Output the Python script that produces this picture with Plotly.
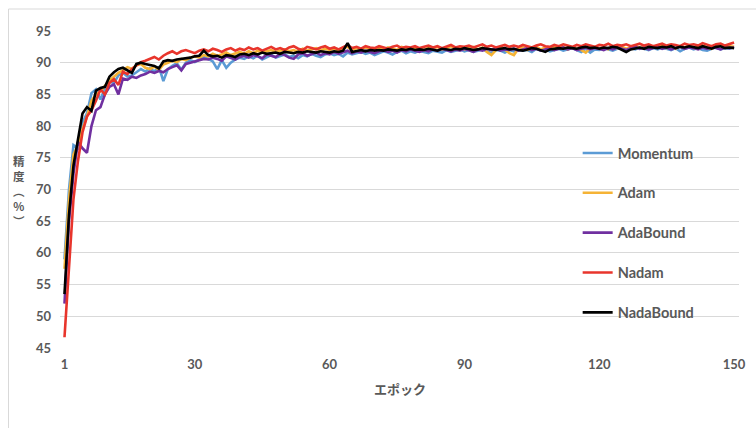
import plotly.graph_objects as go

epochs = list(range(1, 151))

momentum = [
    59.0, 70.0, 77.0, 76.5, 80.5, 82.0, 85.2, 85.8, 84.2, 86.0,
    87.0, 86.8, 88.0, 88.4, 87.8, 88.0, 88.5, 89.0, 88.6, 89.1,
    88.6, 89.4, 87.1, 89.0, 89.5, 89.9, 88.9, 90.0, 90.4, 90.1,
    90.5, 90.9, 90.6, 90.2, 89.0, 90.4, 89.2, 90.0, 90.5, 90.8,
    90.6, 91.0, 90.7, 91.1, 90.5, 90.9, 91.2, 90.8, 91.0, 91.3,
    90.9, 91.1, 90.7, 91.2, 91.0, 91.4, 91.1, 90.9, 91.3, 91.5,
    91.2, 91.4, 91.0, 91.6, 91.3, 91.5, 91.7, 91.4, 91.6, 91.2,
    91.5, 91.8, 91.6, 91.3, 91.7, 91.9, 91.5, 91.8, 91.6, 91.9,
    91.7, 91.5, 91.9, 91.8, 91.6, 92.0, 91.7, 91.9, 92.1, 91.8,
    92.0, 91.7, 91.9, 92.1, 91.8, 91.5, 92.0, 91.9, 91.6, 92.0,
    91.8, 92.1, 91.9, 92.0, 91.7, 92.2, 91.9, 92.1, 91.8, 92.0,
    92.2, 91.9, 92.1, 92.3, 92.0, 91.7, 92.2, 91.6, 92.1, 92.0,
    92.3, 92.1, 91.9, 92.2, 92.4, 92.0, 92.3, 92.1, 92.4, 92.2,
    92.0, 92.3, 92.1, 92.4, 92.2, 92.0, 92.3, 91.8, 92.2, 92.4,
    92.1, 92.3, 92.0, 91.9, 92.2, 92.4, 92.1, 92.3, 92.2, 92.5,
]

adam = [
    57.5, 68.5, 75.5, 77.0, 79.5, 81.5, 84.0, 85.0, 85.5, 86.3,
    87.2, 87.8, 88.4, 88.8, 89.3, 89.0, 89.6, 89.8, 89.2, 89.0,
    89.4, 88.9, 89.7, 90.0, 90.3, 90.1, 90.6, 90.4, 90.8, 91.0,
    90.8, 91.2, 91.0, 91.4, 91.1, 91.3, 91.6, 91.2, 91.5, 91.7,
    91.4, 91.8, 91.5, 91.9, 91.6, 91.8, 92.0, 91.7, 91.9, 92.1,
    91.8, 92.0, 91.7, 92.2, 91.9, 92.1, 92.3, 91.9, 92.2, 92.0,
    92.2, 91.9, 92.3, 92.5, 92.0, 92.3, 92.1, 92.4, 92.2, 92.0,
    92.3, 92.1, 92.4, 92.2, 92.0, 92.5, 92.3, 92.1, 92.4, 92.2,
    92.0, 92.4, 92.2, 92.5, 92.1, 92.3, 92.6, 92.2, 92.4, 92.1,
    92.3, 92.5, 92.1, 92.4, 91.7, 91.2, 92.0, 92.3, 92.1, 91.5,
    91.2, 92.2, 92.4, 92.0, 92.3, 92.5, 92.1, 92.4, 92.2, 92.6,
    92.3, 92.5, 92.1, 92.4, 92.2, 92.0, 91.6, 92.3, 92.5, 92.2,
    92.4, 92.1, 92.6, 92.3, 92.5, 92.2, 92.4, 92.7, 92.3, 92.5,
    92.2, 92.6, 92.4, 92.8, 92.3, 92.5, 92.2, 92.6, 92.4, 92.7,
    92.3, 92.5, 92.7, 92.4, 92.2, 92.6, 92.8, 92.4, 92.6, 92.5,
]

adabound = [
    52.0, 65.0, 72.5, 77.5, 76.5, 75.8, 80.0, 82.5, 83.0, 85.0,
    86.2, 86.6, 85.0, 87.5, 87.3, 87.8, 87.6, 88.0, 88.2, 88.6,
    88.4, 88.7, 88.5, 89.0, 89.3, 89.6, 88.8, 89.8, 90.0, 90.2,
    90.4, 90.6, 90.5, 90.8, 90.6, 90.3, 91.0, 90.7, 90.5, 90.9,
    91.1, 90.8, 91.2, 91.0, 90.7, 91.3, 91.1, 90.9, 91.4, 91.2,
    90.8, 90.6, 91.3, 91.5, 91.1, 91.4, 91.6, 91.2, 91.5, 91.3,
    91.7, 91.4, 91.6, 91.9, 91.5, 91.8, 91.6, 91.9, 91.7, 91.5,
    91.8, 92.0, 91.7, 91.9, 91.6, 92.0, 91.8, 92.1, 91.9, 91.7,
    92.0, 91.8, 92.1, 91.9, 92.2, 92.0, 91.8, 92.1, 91.9, 92.2,
    92.0, 91.7, 92.1, 91.9, 92.2, 92.0, 92.3, 91.9, 92.1, 92.0,
    92.2, 91.9, 92.1, 92.3, 92.0, 92.2, 91.9, 92.1, 92.3, 92.0,
    92.2, 92.4, 92.1, 92.3, 92.0, 92.2, 92.4, 92.1, 92.3, 92.2,
    92.0, 92.3, 92.1, 92.4, 92.2, 92.0, 92.3, 92.5, 92.2, 92.4,
    92.1, 92.3, 92.5, 92.2, 92.4, 92.1, 92.3, 92.5, 92.2, 92.4,
    92.3, 92.1, 92.4, 92.2, 92.5, 92.3, 92.1, 92.4, 92.3, 92.4,
]

nadam = [
    46.7, 58.0, 68.5, 74.5, 79.0, 81.5, 82.5, 84.0, 85.8, 85.0,
    86.8, 87.4, 86.5, 88.6, 88.2, 89.0, 89.6, 90.1, 90.3, 90.6,
    90.9, 90.5, 91.1, 91.5, 91.8, 91.4, 91.8, 92.0, 91.7, 91.5,
    91.9, 92.1, 91.8, 92.2, 92.0, 91.7, 92.1, 92.3, 91.9, 92.2,
    92.0, 92.4, 92.1, 92.3, 91.9, 92.2, 92.5, 92.1, 92.3, 92.0,
    92.4, 92.6, 92.2, 92.0, 92.5, 92.3, 92.1, 92.4, 92.6, 92.2,
    92.4, 92.1, 92.5, 92.8, 92.3, 92.5, 92.2, 92.6, 92.4, 92.3,
    92.6, 92.4, 92.2, 92.5, 92.7, 92.3, 92.5, 92.4, 92.6, 92.3,
    92.5, 92.7, 92.4, 92.6, 92.3, 92.5, 92.8, 92.4, 92.6, 92.5,
    92.7, 92.4, 92.6, 92.9, 92.5, 92.7, 92.4, 92.6, 92.8, 92.5,
    92.7, 92.5, 92.8, 92.6, 92.4, 92.7, 92.9, 92.6, 92.5, 92.8,
    92.6, 92.9, 92.7, 92.5, 92.8, 92.6, 92.9, 92.7, 92.5, 92.8,
    92.7, 93.0, 92.6, 92.8, 92.7, 92.9, 92.6, 92.8, 93.0, 92.7,
    92.9, 92.6, 92.8, 93.0, 92.7, 92.9, 92.8, 92.6, 93.0, 92.8,
    92.9, 92.7, 93.1, 92.8, 92.6, 92.9, 93.0, 92.7, 92.9, 93.2,
]

nadabound = [
    53.5, 66.0, 73.8, 78.2, 82.0, 83.0, 82.4, 85.6, 86.0, 86.2,
    87.8, 88.5, 89.0, 89.2, 88.8, 88.4, 89.8, 90.0, 89.8, 89.7,
    89.5, 89.1, 90.2, 90.4, 90.3, 90.5, 90.6, 90.6, 90.8, 91.0,
    91.1, 91.9, 91.2, 91.0, 91.1, 90.8, 91.2, 91.1, 90.9, 91.3,
    91.4, 91.2, 91.5, 91.3, 91.6, 91.4, 91.5, 91.6, 91.4, 91.7,
    91.6, 91.5, 91.7, 91.6, 91.8, 91.7, 91.6, 91.8, 91.7, 91.6,
    91.8, 91.7, 91.9, 93.1, 91.7, 91.9, 92.0, 91.8, 92.0, 91.9,
    92.0, 91.9, 92.1, 92.0, 91.9, 92.1, 92.0, 92.2, 92.0, 92.1,
    92.0, 92.2, 92.1, 91.9, 92.2, 92.1, 92.0, 92.2, 92.1, 92.3,
    92.2, 92.0, 92.1, 92.3, 92.2, 92.1, 92.0, 92.2, 92.3, 92.1,
    92.2, 92.0, 91.9, 92.1, 92.3, 92.2, 92.0, 91.7, 92.1, 92.2,
    92.3, 92.2, 92.4, 92.3, 92.2, 92.4, 92.5, 92.3, 92.4, 92.2,
    92.4, 92.3, 92.5, 92.4, 92.1, 91.7, 92.1, 92.3, 92.4, 92.2,
    92.5, 92.4, 92.3, 92.5, 92.4, 92.6, 92.3, 92.5, 92.4, 92.6,
    92.5, 92.3, 92.6, 92.4, 92.2, 92.5, 92.6, 92.3, 92.4, 92.3,
]

series_names = ["Momentum", "Adam", "AdaBound", "Nadam", "NadaBound"]
series_values = [momentum, adam, adabound, nadam, nadabound]
series_colors = ["#5B9BD5", "#F5B335", "#7030A0", "#E8352C", "#000000"]

x_tick_values = [1, 30, 60, 90, 120, 150]
y_tick_values = [45, 50, 55, 60, 65, 70, 75, 80, 85, 90, 95]

x_title = "エポック"
y_title = "精<br>度<br>︵<br>%<br>︶"

W, H = 756, 428
ML, MR, MT, MB = 60, 10, 31, 80
PW, PH = W - ML - MR, H - MT - MB

TEXT = "#595959"
FONT = "Lato"

fig = go.Figure()
for name, vals, col in zip(series_names, series_values, series_colors):
    fig.add_trace(go.Scatter(
        x=epochs, y=vals, name=name, mode="lines",
        line=dict(color=col, width=2.6),
        legendgroup=name,
    ))

def px_x(px):
    return (px - ML) / PW

def px_y(py):
    return (H - MB - py) / PH

annotations = [
    dict(text=x_title, x=0.5, y=px_y(388), xref="paper", yref="paper",
         showarrow=False, xanchor="center", yanchor="middle",
         font=dict(family="Noto Sans CJK JP", size=13, color=TEXT, weight="bold")),
    dict(text=y_title, x=px_x(19), y=px_y(191), xref="paper", yref="paper",
         showarrow=False, xanchor="center", yanchor="middle",
         font=dict(family="Noto Sans CJK JP", size=11.5, color=TEXT, weight="bold")),
]

fig.update_layout(
    width=W, height=H,
    margin=dict(l=ML, r=MR, t=MT, b=MB),
    paper_bgcolor="white", plot_bgcolor="white",
    font=dict(family=FONT, size=13, color=TEXT),
    showlegend=True,
    legend=dict(
        x=px_x(583), y=px_y(137), xanchor="left", yanchor="top",
        bgcolor="rgba(0,0,0,0)", traceorder="grouped", tracegroupgap=18,
        font=dict(family=FONT, size=14.5, color=TEXT, weight="bold"),
    ),
    xaxis=dict(
        range=[0, 151.1], tickmode="array", tickvals=x_tick_values,
        showgrid=False, zeroline=False, showline=False, ticks="",
        tickfont=dict(family=FONT, size=13, color=TEXT, weight="bold"),
        ticklabelstandoff=7,
    ),
    yaxis=dict(
        range=[45, 95], tickmode="array", tickvals=y_tick_values,
        showgrid=True, gridcolor="#D9D9D9", gridwidth=1,
        zeroline=False, showline=False, ticks="",
        tickfont=dict(family=FONT, size=13, color=TEXT, weight="bold"),
        ticklabelstandoff=8,
    ),
    annotations=annotations,
    shapes=[dict(type="rect", xref="paper", yref="paper",
                 x0=px_x(8), x1=px_x(770), y0=px_y(440), y1=px_y(9),
                 line=dict(color="#D9D9D9", width=1), layer="below")],
)

fig.write_html("out.html")
